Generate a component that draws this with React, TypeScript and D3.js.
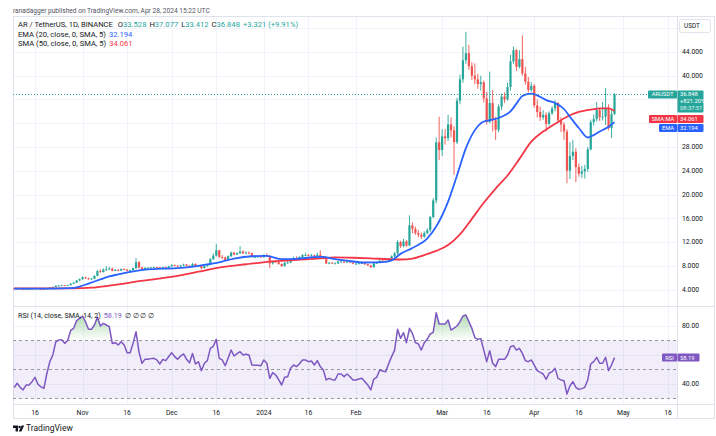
import React, { useRef, useEffect } from "react";
import { select, scaleLinear, scaleUtc, utcDay, line, area, curveMonotoneX, format } from "d3";

// daily candles from Oct 9 2023; open = previous close
const startDate = new Date(Date.UTC(2023, 9, 9));
const firstOpen = 4.15;
const lastOpen = 33.528;
const closes = [
  4.10, 4.15, 4.10, 4.05, 4.10, 4.10, 4.14,
  4.20, 4.12, 4.08, 4.05, 4.18, 4.32, 4.42,
  4.62, 4.66, 4.70, 4.65, 4.72, 4.98, 5.15,
  5.50, 5.75, 6.05, 5.90, 5.75, 5.80, 6.30,
  7.10, 6.95, 7.35, 7.40, 7.50, 7.15, 7.30,
  7.20, 7.45, 7.35, 7.15, 7.25, 7.60, 8.60,
  7.70, 7.45, 7.65, 7.65, 7.70, 7.75, 7.70,
  7.55, 7.75, 7.70, 7.90, 8.10, 8.00, 7.90,
  8.05, 8.20, 8.00, 7.85, 8.30, 7.90, 8.00,
  7.60, 7.95, 8.15, 9.10, 9.70, 10.60, 9.50,
  9.40, 9.00, 9.60, 10.20, 9.90, 10.10, 10.40,
  10.10, 10.20, 10.10, 9.50, 9.50, 9.55, 9.45,
  9.80, 9.60, 8.40, 8.80, 8.60, 8.30, 7.95,
  8.50, 8.55, 9.00, 9.30, 9.20, 9.45, 9.80,
  9.80, 9.70, 9.75, 9.50, 9.85, 9.45, 9.20,
  8.40, 8.50, 8.40, 8.40, 8.70, 8.70, 8.55,
  8.70, 8.55, 8.35, 8.35, 8.40, 8.45, 8.25,
  8.05, 7.75, 8.40, 8.50, 8.85, 8.80, 8.75,
  9.20, 9.60, 10.10, 12.00, 11.30, 12.10, 11.40,
  14.80, 14.20, 13.50, 13.20, 12.90, 13.50, 14.00,
  16.20, 19.00, 28.80, 27.50, 29.80, 29.50, 31.80,
  30.80, 28.80, 35.80, 39.40, 42.60, 43.80, 41.60,
  40.00, 39.40, 38.60, 38.90, 36.20, 32.20, 35.40,
  32.50, 30.90, 34.80, 36.50, 36.00, 38.10, 42.40,
  44.30, 41.50, 42.80, 40.40, 39.00, 37.60, 38.30,
  35.00, 33.90, 33.00, 33.40, 31.90, 33.70, 34.50,
  35.40, 32.50, 31.80, 30.60, 24.00, 26.50, 27.20,
  24.60, 23.50, 23.90, 24.30, 27.60, 32.20, 32.70,
  34.20, 33.00, 33.10, 34.60, 31.20, 33.527, 36.848,
];
const highs = [
  4.22, 4.20, 4.18, 4.14, 4.14, 4.16, 4.20,
  4.26, 4.24, 4.16, 4.12, 4.22, 4.38, 4.50,
  4.70, 4.75, 4.80, 4.78, 4.80, 5.05, 5.25,
  5.60, 5.85, 6.20, 6.15, 6.00, 5.95, 6.40,
  7.30, 7.40, 7.55, 7.95, 7.80, 7.70, 7.45,
  7.45, 7.55, 7.60, 7.45, 7.35, 7.70, 9.30,
  8.80, 7.85, 7.75, 7.80, 7.80, 7.85, 7.85,
  7.80, 7.85, 7.85, 8.00, 8.25, 8.20, 8.10,
  8.15, 8.35, 8.30, 8.10, 8.45, 8.40, 8.15,
  8.10, 8.05, 8.30, 9.30, 10.10, 11.70, 10.70,
  9.80, 9.55, 9.75, 10.40, 10.35, 10.30, 11.30,
  10.60, 10.45, 10.40, 10.25, 9.75, 9.70, 9.70,
  9.95, 10.10, 9.80, 8.90, 8.95, 8.70, 8.40,
  8.60, 8.80, 9.15, 9.55, 9.60, 9.60, 9.95,
  10.20, 10.00, 10.00, 9.90, 10.20, 10.60, 9.60,
  9.30, 8.65, 8.60, 8.55, 8.80, 8.90, 8.80,
  8.80, 8.80, 8.65, 8.50, 8.50, 8.55, 8.55,
  8.35, 8.15, 8.50, 8.65, 8.95, 8.95, 8.95,
  9.30, 9.75, 10.30, 12.30, 12.20, 12.50, 12.30,
  16.50, 15.30, 14.60, 14.00, 13.60, 13.80, 14.30,
  16.40, 19.40, 29.60, 33.10, 31.00, 31.00, 33.40,
  33.00, 31.50, 36.30, 40.20, 44.90, 47.40, 45.20,
  42.30, 42.10, 40.30, 40.00, 39.20, 37.30, 40.70,
  37.60, 33.10, 35.20, 37.00, 37.20, 38.80, 43.50,
  44.90, 44.50, 44.30, 46.80, 41.50, 39.80, 38.90,
  38.60, 36.00, 34.80, 34.20, 33.80, 34.00, 34.90,
  35.90, 35.60, 33.00, 32.20, 31.00, 28.80, 29.20,
  27.80, 25.20, 24.80, 25.00, 28.00, 32.60, 33.50,
  35.60, 34.60, 35.60, 37.90, 35.20, 34.20, 37.077,
];
const lows = [
  4.05, 4.06, 4.05, 3.98, 4.00, 4.04, 4.06,
  4.10, 4.08, 4.02, 4.00, 4.02, 4.15, 4.28,
  4.38, 4.55, 4.58, 4.58, 4.60, 4.68, 4.90,
  5.10, 5.40, 5.65, 5.80, 5.65, 5.65, 5.75,
  6.20, 6.80, 6.85, 7.15, 7.25, 7.05, 7.05,
  7.05, 7.10, 7.25, 7.05, 7.05, 7.20, 7.50,
  7.55, 7.30, 7.40, 7.55, 7.55, 7.60, 7.60,
  7.45, 7.50, 7.60, 7.65, 7.85, 7.90, 7.80,
  7.80, 7.95, 7.90, 7.75, 7.80, 7.80, 7.85,
  7.40, 7.55, 7.85, 8.05, 9.00, 9.55, 9.30,
  9.10, 8.90, 8.95, 9.50, 9.75, 9.80, 10.00,
  10.00, 9.95, 9.95, 9.40, 9.30, 9.35, 9.30,
  9.35, 9.45, 7.60, 8.20, 8.45, 8.15, 7.80,
  7.85, 8.35, 8.45, 8.90, 9.05, 9.10, 9.35,
  9.60, 9.55, 9.55, 9.35, 9.40, 9.40, 9.10,
  8.30, 8.25, 8.30, 8.25, 8.30, 8.55, 8.45,
  8.45, 8.45, 8.25, 8.20, 8.25, 8.30, 8.15,
  7.95, 7.65, 7.70, 8.30, 8.40, 8.65, 8.60,
  8.65, 9.05, 9.40, 9.90, 11.00, 11.10, 11.20,
  11.30, 13.50, 13.20, 12.80, 12.50, 12.70, 13.30,
  13.70, 16.00, 18.50, 25.80, 26.50, 28.40, 29.00,
  29.60, 23.30, 28.50, 35.20, 38.80, 42.00, 41.00,
  39.30, 38.60, 37.80, 37.50, 35.50, 31.80, 32.00,
  30.60, 29.20, 30.50, 34.20, 35.40, 35.80, 37.50,
  42.00, 40.80, 41.20, 40.00, 38.50, 37.20, 37.30,
  34.60, 33.00, 32.40, 32.60, 30.60, 31.60, 33.40,
  34.00, 32.10, 30.50, 29.20, 21.90, 22.60, 25.80,
  22.10, 23.00, 22.80, 22.70, 23.80, 27.40, 31.60,
  32.30, 32.40, 32.50, 31.70, 30.80, 29.50, 33.412,
];

// RSI(14), one value per candle
const rsiValues = [
  37.5, 40.5, 37.7, 35.9, 39.3, 39.3, 41.6,
  44.6, 39.8, 38.0, 37.0, 47.4, 55.4, 60.0,
  69.0, 70.3, 70.6, 68.0, 70.0, 77.0, 78.4,
  83.7, 85.3, 86.9, 83.0, 77.7, 77.7, 80.7,
  86.0, 80.0, 81.8, 80.7, 79.5, 68.0, 68.5,
  66.9, 69.2, 66.9, 61.6, 61.6, 68.0, 76.0,
  62.0, 54.3, 57.0, 57.0, 57.5, 57.7, 56.6,
  53.8, 57.0, 56.1, 59.0, 61.6, 58.9, 57.0,
  59.3, 60.7, 57.0, 54.7, 61.1, 53.8, 55.4,
  49.2, 54.3, 56.1, 64.6, 66.0, 70.8, 57.7,
  56.6, 52.6, 58.0, 63.4, 59.3, 61.0, 62.3,
  60.0, 60.5, 60.0, 53.1, 53.0, 52.9, 52.6,
  56.6, 54.3, 43.9, 47.8, 46.2, 43.0, 39.3,
  44.6, 45.0, 50.8, 53.1, 52.0, 54.0, 56.6,
  56.6, 55.4, 55.9, 53.1, 56.1, 52.0, 49.7,
  42.8, 43.9, 43.0, 42.8, 46.9, 46.9, 45.1,
  46.9, 45.0, 42.8, 42.8, 43.4, 43.9, 41.6,
  39.3, 35.9, 43.4, 44.6, 49.7, 49.0, 48.5,
  54.0, 58.9, 63.4, 77.7, 71.5, 75.4, 68.5,
  78.4, 74.9, 68.5, 67.6, 63.4, 68.5, 71.0,
  74.5, 75.6, 89.2, 81.4, 81.4, 81.4, 84.1,
  77.2, 78.5, 80.0, 83.0, 86.9, 87.6, 83.0,
  78.4, 72.0, 70.8, 71.3, 63.4, 55.4, 63.0,
  54.3, 52.0, 57.0, 57.0, 57.0, 60.0, 65.7,
  66.5, 63.4, 64.6, 61.1, 56.1, 55.4, 56.6,
  53.0, 49.2, 48.0, 46.9, 43.2, 47.4, 48.5,
  50.8, 43.9, 42.8, 42.3, 33.1, 38.6, 41.6,
  37.7, 36.3, 36.8, 37.7, 42.8, 53.8, 55.4,
  58.4, 54.3, 54.3, 58.4, 49.2, 53.1, 58.19,
];

// [day index, value]
const emaPoints: [number, number][] = [
  [0, 4.15], [13, 4.15], [19, 4.22], [22, 4.5], [25, 5.0], [29, 5.7], [32, 6.2], [35, 6.55],
  [39, 6.95], [44, 7.35], [50, 7.5], [55, 7.6], [61, 7.9], [66, 8.3], [70, 8.7], [74, 9.2],
  [80, 9.6], [85, 9.65], [90, 9.1], [95, 9.15], [101, 9.45], [104, 9.5], [107, 9.2], [112, 8.85],
  [118, 8.55], [124, 8.6], [127, 8.9], [130, 10.0], [134, 11.0], [139, 12.6], [142, 14.6],
  [146, 18.8], [149, 23.2], [152, 27.8], [156, 31.5], [158, 32.3], [161, 32.6], [164, 33.1],
  [167, 34.0], [169, 35.3], [171, 36.6], [174, 37.0], [176, 36.7], [179, 35.9], [182, 35.4],
  [185, 34.4], [187, 33.1], [190, 31.2], [193, 29.6], [195, 30.0], [197, 30.6], [200, 31.4],
  [202, 32.194],
];
const smaPoints: [number, number][] = [
  [0, 4.18], [10, 4.18], [20, 4.18], [26, 4.3], [32, 4.65], [37, 5.0], [42, 5.4], [48, 5.8],
  [55, 6.3], [62, 7.0], [70, 7.75], [78, 8.25], [86, 8.7], [94, 8.95], [102, 9.2], [108, 9.4],
  [114, 9.35], [120, 9.25], [126, 9.1], [130, 9.05], [134, 9.2], [138, 9.8], [142, 10.5],
  [146, 11.5], [150, 13.3], [154, 15.9], [158, 18.6], [162, 21.0], [166, 23.2], [170, 26.0],
  [174, 28.9], [178, 30.6], [182, 31.9], [186, 33.1], [190, 33.9], [194, 34.3], [198, 34.5],
  [200, 34.5], [202, 34.061],
];

const priceTicks = [4, 8, 12, 16, 20, 24, 28, 32, 36, 40, 44, 48];
const rsiTicks = [40, 60, 80];
const rsiBands = [70, 50, 30];
const dateTicks = [
  [2023, 9, 16], [2023, 10, 1], [2023, 10, 16], [2023, 11, 1], [2023, 11, 16], [2024, 0, 1],
  [2024, 0, 16], [2024, 1, 1], [2024, 2, 1], [2024, 2, 16], [2024, 3, 1], [2024, 3, 16],
  [2024, 4, 1], [2024, 4, 16],
];
const dateLabels = ["16", "Nov", "16", "Dec", "16", "2024", "16", "Feb", "Mar", "16", "Apr", "16", "May", "16"];
const headerText = "ranadagger published on TradingView.com, Apr 28, 2024 15:22 UTC";
const changeSinceStart = "+821.20%";
const countdown = "08:37:51";

const UP = "#26a69a";
const DOWN = "#ef5350";
const EMA_C = "#2962ff";
const SMA_C = "#f23645";
const RSI_C = "#7e57c2";
const TXT = "#131722";
const FONT = "Roboto, 'Open Sans', sans-serif";

export default function App() {
  const svgRef = useRef<SVGSVGElement>(null);

  useEffect(() => {
    const svg = select(svgRef.current);
    svg.selectAll("*").remove();

    const left = 13, axisX = 677, right = 714;
    const paneTop = 16, paneBottom = 306, rsiBottom = 404, frameBottom = 418;

    const x = scaleUtc().domain([Date.UTC(2023, 9, 16), Date.UTC(2024, 4, 16)]).range([35, 668]);
    const y = scaleLinear().domain([4, 44]).range([289.5, 52]);
    const yR = scaleLinear().domain([40, 80]).range([384, 326]);
    const dayX = (i: number) => x(utcDay.offset(startDate, i));
    const f3 = format(".3f");
    const f2 = format(".2f");

    const defs = svg.append("defs");
    defs.append("clipPath").attr("id", "mainClip").append("rect")
      .attr("x", left).attr("y", paneTop).attr("width", axisX - left).attr("height", paneBottom - paneTop);
    defs.append("clipPath").attr("id", "rsiClip").append("rect")
      .attr("x", left).attr("y", paneBottom).attr("width", axisX - left).attr("height", rsiBottom - paneBottom);
    const grad = defs.append("linearGradient").attr("id", "obFill")
      .attr("gradientUnits", "userSpaceOnUse").attr("x1", 0).attr("x2", 0)
      .attr("y1", yR(100)).attr("y2", yR(70));
    grad.append("stop").attr("offset", 0).attr("stop-color", "#4caf50").attr("stop-opacity", 0.75);
    grad.append("stop").attr("offset", 1).attr("stop-color", "#4caf50").attr("stop-opacity", 0);

    svg.append("rect").attr("width", 716).attr("height", 436).attr("fill", "#fff");

    // grid
    const grid = svg.append("g").attr("stroke", "#f0f3fa").attr("stroke-width", 1);
    dateTicks.forEach(d => {
      const gx = Math.round(x(Date.UTC(d[0], d[1], d[2]))) + 0.5;
      grid.append("line").attr("x1", gx).attr("x2", gx).attr("y1", paneTop).attr("y2", rsiBottom);
    });
    priceTicks.forEach(t => {
      const gy = Math.round(y(t)) + 0.5;
      if (gy > paneTop && gy < paneBottom)
        grid.append("line").attr("x1", left).attr("x2", axisX).attr("y1", gy).attr("y2", gy);
    });
    rsiTicks.forEach(t => {
      const gy = Math.round(yR(t)) + 0.5;
      grid.append("line").attr("x1", left).attr("x2", axisX).attr("y1", gy).attr("y2", gy);
    });

    // frame
    const frame = svg.append("g").attr("stroke", "#e0e3eb").attr("fill", "none");
    frame.append("rect").attr("x", left + 0.5).attr("y", paneTop + 0.5)
      .attr("width", right - left).attr("height", frameBottom - paneTop);
    frame.append("line").attr("x1", left).attr("x2", right + 0.5).attr("y1", paneBottom + 0.5).attr("y2", paneBottom + 0.5);
    frame.append("line").attr("x1", left).attr("x2", right + 0.5).attr("y1", rsiBottom + 0.5).attr("y2", rsiBottom + 0.5);
    frame.append("line").attr("x1", axisX + 0.5).attr("x2", axisX + 0.5).attr("y1", paneTop).attr("y2", frameBottom);

    // main pane
    const last = closes.length - 1;
    const main = svg.append("g").attr("clip-path", "url(#mainClip)");
    const candles = main.append("g");
    closes.forEach((c, i) => {
      const o = i === 0 ? firstOpen : i === last ? lastOpen : closes[i - 1];
      const col = c >= o ? UP : DOWN;
      const cx = dayX(i);
      candles.append("line").attr("x1", cx).attr("x2", cx)
        .attr("y1", y(highs[i])).attr("y2", y(lows[i])).attr("stroke", col).attr("stroke-width", 0.9);
      const top = y(Math.max(o, c));
      candles.append("rect").attr("x", cx - 1.1).attr("width", 2.2)
        .attr("y", top).attr("height", Math.max(0.8, y(Math.min(o, c)) - top)).attr("fill", col);
    });

    const maLine = line<[number, number]>().x(d => dayX(d[0])).y(d => y(d[1])).curve(curveMonotoneX);
    main.append("path").attr("d", maLine(smaPoints)).attr("fill", "none").attr("stroke", SMA_C).attr("stroke-width", 1.8);
    main.append("path").attr("d", maLine(emaPoints)).attr("fill", "none").attr("stroke", EMA_C).attr("stroke-width", 1.8);

    const lastClose = closes[last];
    const prevClose = closes[last - 1];
    main.append("line").attr("x1", left).attr("x2", axisX)
      .attr("y1", y(lastClose)).attr("y2", y(lastClose))
      .attr("stroke", UP).attr("stroke-width", 1).attr("stroke-dasharray", "1,2");

    // rsi pane
    const rsi = svg.append("g").attr("clip-path", "url(#rsiClip)");
    rsi.append("rect").attr("x", left).attr("width", axisX - left)
      .attr("y", yR(70)).attr("height", yR(30) - yR(70)).attr("fill", "rgba(126,87,194,0.1)");
    rsiBands.forEach(b => {
      rsi.append("line").attr("x1", left).attr("x2", axisX).attr("y1", yR(b)).attr("y2", yR(b))
        .attr("stroke", "#9598a1").attr("stroke-width", 1).attr("stroke-dasharray", "3,3");
    });
    const ob = area<number>().x((_, i) => dayX(i)).y0(yR(70)).y1(v => yR(Math.max(v, 70)));
    rsi.append("path").attr("d", ob(rsiValues)).attr("fill", "url(#obFill)");
    const rsiLine = line<number>().x((_, i) => dayX(i)).y(v => yR(v));
    rsi.append("path").attr("d", rsiLine(rsiValues)).attr("fill", "none")
      .attr("stroke", RSI_C).attr("stroke-width", 1.5).attr("stroke-linejoin", "round");

    // tag positions (computed first so covered axis labels can be skipped)
    const emaLast = emaPoints[emaPoints.length - 1][1];
    const smaLast = smaPoints[smaPoints.length - 1][1];
    const rsiLast = rsiValues[rsiValues.length - 1];
    const arTop = y(lastClose) - 4;
    const arH = 22;
    const smaTop = Math.max(y(smaLast) - 4, arTop + arH + 2.5);
    const emaTop = Math.max(y(emaLast) - 4, smaTop + 9);
    const rsiTop = yR(rsiLast) - 4;
    const busy: [number, number][] = [[arTop, arTop + arH], [smaTop, smaTop + 8], [emaTop, emaTop + 8], [rsiTop, rsiTop + 8]];
    const free = (ly: number) => busy.every(([a, b]) => ly + 3 < a || ly - 3 > b);

    const txt = svg.append("g").attr("font-family", FONT).attr("font-size", 7.6).attr("fill", TXT);

    // header + legends
    txt.append("text").attr("x", 13).attr("y", 12.5).attr("font-size", 6.6).attr("fill", "#50535e").text(headerText);
    const chg = lastClose - prevClose;
    const l1 = txt.append("text").attr("x", 18).attr("y", 27);
    l1.append("tspan").text("AR / TetherUS, 1D, BINANCE");
    const parts: [string, string][] = [
      ["O", f3(lastOpen)], ["H", f3(highs[last])], ["L", f3(lows[last])], ["C", f3(lastClose)],
    ];
    parts.forEach(([k, v], j) => {
      l1.append("tspan").attr("dx", j === 0 ? 5 : 3).text(k);
      l1.append("tspan").attr("fill", UP).text(v);
    });
    l1.append("tspan").attr("dx", 3).attr("fill", UP)
      .text(`+${f3(chg)} (+${f2((chg / prevClose) * 100)}%)`);

    const l2 = txt.append("text").attr("x", 18).attr("y", 36.5);
    l2.append("tspan").text("EMA (20, close, 0, SMA, 5)");
    l2.append("tspan").attr("dx", 3).attr("fill", EMA_C).text(f3(emaLast));
    const l3 = txt.append("text").attr("x", 18).attr("y", 45.5);
    l3.append("tspan").text("SMA (50, close, 0, SMA, 5)");
    l3.append("tspan").attr("dx", 3).attr("fill", SMA_C).text(f3(smaLast));

    const l4 = txt.append("text").attr("x", 18).attr("y", 317.5).attr("font-size", 7.2);
    l4.append("tspan").text("RSI (14, close, SMA, 14, 2)");
    l4.append("tspan").attr("dx", 3).attr("fill", RSI_C).text(f2(rsiLast));
    l4.append("tspan").attr("dx", 3).text("∅ ∅ ∅ ∅");

    // price / rsi axis labels
    const axisTxt = txt.append("g").attr("font-size", 6.8);
    priceTicks.forEach(t => {
      const ty = y(t);
      if (ty > paneTop + 20 && ty < paneBottom - 4 && free(ty))
        axisTxt.append("text").attr("x", 682).attr("y", ty + 2.4).text(f3(t));
    });
    rsiTicks.forEach(t => {
      if (free(yR(t))) axisTxt.append("text").attr("x", 682).attr("y", yR(t) + 2.4).text(f2(t));
    });

    // date axis
    dateTicks.forEach((d, j) => {
      axisTxt.append("text").attr("x", x(Date.UTC(d[0], d[1], d[2]))).attr("y", 414.5)
        .attr("text-anchor", "middle").text(dateLabels[j]);
    });

    // tags layer above the axis text
    const tags = svg.append("g").attr("font-family", FONT).attr("font-size", 5.8);

    tags.append("rect").attr("x", 679.5).attr("y", 19.5).attr("width", 31).attr("height", 13).attr("rx", 2)
      .attr("fill", "#fff").attr("stroke", "#e0e3eb");
    tags.append("text").attr("x", 684).attr("y", 28.3).attr("font-size", 6.4).attr("fill", TXT).text("USDT");

    const tag = (name: string, x0: number, top: number, col: string) => {
      tags.append("rect").attr("x", x0).attr("y", top).attr("width", axisX - x0).attr("height", 8)
        .attr("rx", 1).attr("fill", col);
      tags.append("text").attr("x", (x0 + axisX) / 2).attr("y", top + 6).attr("text-anchor", "middle")
        .attr("fill", "#fff").text(name);
    };
    const valBox = (lines: string[], top: number, w: number, h: number, col: string) => {
      tags.append("rect").attr("x", axisX + 0.5).attr("y", top).attr("width", w)
        .attr("height", h).attr("rx", 1).attr("fill", col);
      lines.forEach((s, k) => {
        tags.append("text").attr("x", axisX + 3).attr("y", top + 6 + k * 7).attr("fill", "#fff")
          .attr("opacity", k === 2 ? 0.85 : 1).text(s);
      });
    };
    tag("ARUSDT", 648, arTop, UP);
    valBox([f3(lastClose), changeSinceStart, countdown], arTop, 26, arH, UP);
    tag("SMA:MA", 649, smaTop, SMA_C);
    valBox([f3(smaLast)], smaTop, 26, 8, SMA_C);
    tag("EMA", 659, emaTop, EMA_C);
    valBox([f3(emaLast)], emaTop, 26, 8, EMA_C);
    tag("RSI", 662, rsiTop, RSI_C);
    valBox([f2(rsiLast)], rsiTop, 22, 8, RSI_C);

    // TradingView mark
    const logo = svg.append("g").attr("fill", TXT);
    logo.append("path").attr("d", "M13,425.5 h5 v6 h-2.4 v-3.6 h-2.6 z");
    logo.append("circle").attr("cx", 19.6).attr("cy", 427).attr("r", 1.2);
    logo.append("path").attr("d", "M21.6,425.5 h2.6 l-2.8,6 h-2.6 z");
    svg.append("text").attr("x", 26).attr("y", 431).attr("font-family", FONT)
      .attr("font-size", 8.5).attr("fill", TXT).text("TradingView");
  }, []);

  return (
    <svg ref={svgRef} width={716} height={436}
      style={{ position: "fixed", left: 0, top: 0, display: "block" }} />
  );
}
